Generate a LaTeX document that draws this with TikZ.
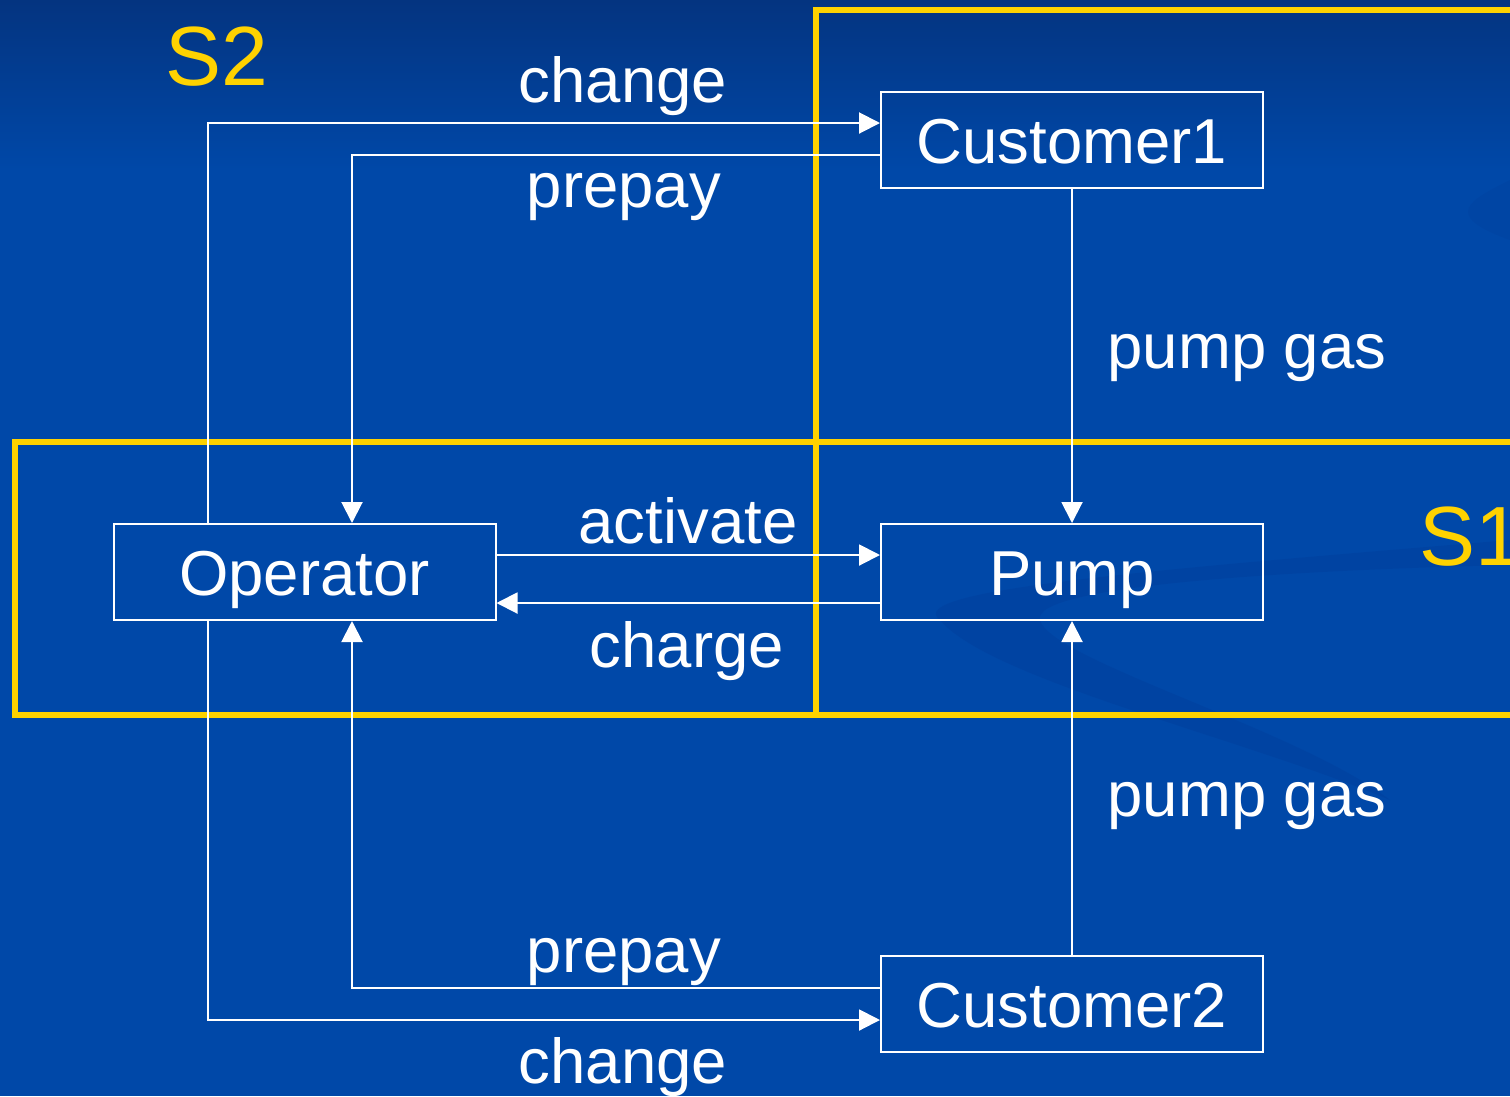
\documentclass[tikz,border=0pt]{standalone}
\usepackage{fontspec}
\setmainfont{Liberation Sans}
\usetikzlibrary{arrows.meta}
\definecolor{bgtop}{RGB}{4,52,128}
\definecolor{bgmain}{RGB}{0,72,168}
\definecolor{swirlc}{RGB}{0,50,140}
\definecolor{yel}{RGB}{255,210,0}
\tikzset{
  box/.style={draw=white, line width=2pt, minimum width=382pt, minimum height=96pt,
    inner sep=0pt, text=white, text height=46pt, text depth=0pt,
    font=\fontsize{63.5}{70}\selectfont},
  lbl/.style={anchor=base, text=white, inner sep=0pt, font=\fontsize{63.5}{70}\selectfont},
  slbl/.style={anchor=base west, text=yel, inner sep=0pt, font=\fontsize{84}{90}\selectfont},
  arr/.style={draw=white, line width=2pt, -{Triangle[length=21pt,width=21pt]}},
  yframe/.style={draw=yel, line width=5.5pt},
}
\begin{document}
\begin{tikzpicture}[x=1pt,y=-1pt]
\useasboundingbox (0,0) rectangle (1510,1096);
\clip (0,0) rectangle (1510,1096);
\fill[bgmain] (0,0) rectangle (1510,1096);
\shade[top color=bgtop, bottom color=bgmain] (0,0) rectangle (1510,170);
% faint swirl
\fill[swirlc, opacity=0.2] (1510,540) .. controls (1150,570) and (900,590) .. (940,620)
  .. controls (990,680) and (1250,740) .. (1390,800)
  .. controls (1300,730) and (1050,660) .. (1040,620)
  .. controls (1030,585) and (1300,570) .. (1510,565) -- cycle;
\fill[swirlc, opacity=0.12] (1510,180) .. controls (1470,200) and (1440,215) .. (1510,240) -- cycle;
% frames
\draw[yframe] (816,10) rectangle (1540,715);
\draw[yframe] (15,442) rectangle (1540,715);
\node[slbl] (s2) at (165,85) {S2};
\node[slbl] (s1) at (1419,565) {S1};
% boxes
\node[box] (c1) at (1072,140) {Customer1};
\node[box] (pump) at (1072,572) {Pump};
\node[box] (c2) at (1072,1004) {Customer2};
\node[box] (op) at (304.5,572) {Operator};
% connectors
\draw[arr] ([xshift=-96.5pt]op.north) |- ([yshift=17pt]c1.west);
\draw[arr] ([yshift=-15pt]c1.west) -| ([xshift=47.5pt]op.north);
\draw[arr] ([yshift=17pt]op.east) -- ([yshift=17pt]pump.west);
\draw[arr] ([yshift=-31pt]pump.west) -- ([yshift=-31pt]op.east);
\draw[arr] (c1.south) -- (pump.north);
\draw[arr] (c2.north) -- (pump.south);
\draw[arr] ([yshift=16pt]c2.west) -| ([xshift=47.5pt]op.south);
\draw[arr] ([xshift=-96.5pt]op.south) |- ([yshift=-16pt]c2.west);
% labels
\node[lbl] (l1) at (623,102) {change};
\node[lbl] (l2) at (624,207) {prepay};
\node[lbl] (l3) at (1247,368) {pump gas};
\node[lbl] (l4) at (688,543) {activate};
\node[lbl] (l5) at (687,667) {charge};
\node[lbl] (l6) at (1247,816) {pump gas};
\node[lbl] (l7) at (624,972) {prepay};
\node[lbl] (l8) at (623,1083) {change};
\end{tikzpicture}
\end{document}
